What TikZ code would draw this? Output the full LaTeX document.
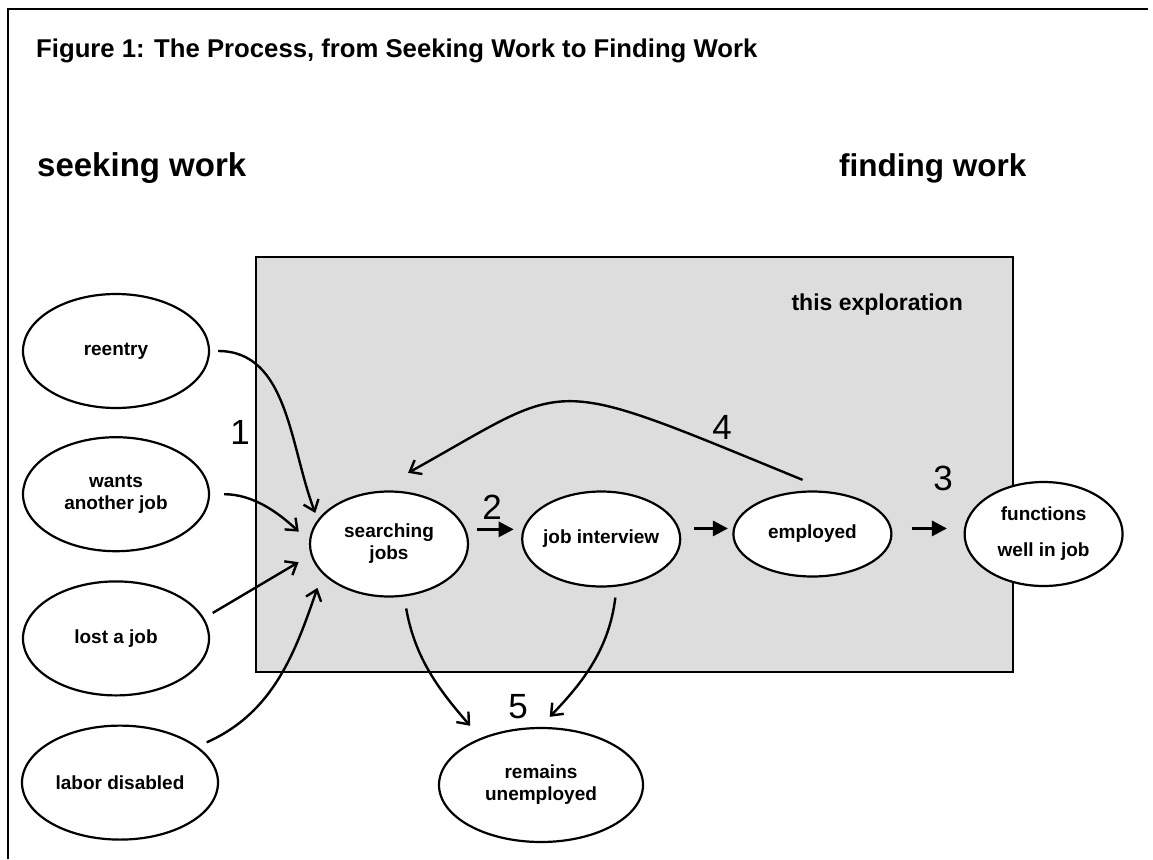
\documentclass[tikz,border=0pt]{standalone}
\usepackage{fontspec}
\setmainfont{Liberation Sans}
\usetikzlibrary{positioning,arrows.meta,shapes}
\definecolor{boxgray}{HTML}{DDDDDD}
\tikzstyle{ellbox}=[ellipse, draw, line width=2.2pt, fill=white, inner sep=0pt, align=center, minimum width=158pt, font=\bfseries\fontsize{19}{22}\selectfont]
\tikzstyle{sidebox}=[ellbox, minimum width=186pt, minimum height=114pt]
\tikzstyle{headtxt}=[inner sep=0pt, anchor=base west, font=\bfseries\fontsize{33}{38}\selectfont]
\tikzstyle{boxtxt}=[inner sep=0pt, font=\bfseries\fontsize{23}{28}\selectfont]
\tikzstyle{numlbl}=[inner sep=0pt, font=\fontsize{35}{40}\selectfont]
\tikzstyle{bendarr}=[-{Straight Barb[length=10pt,width=16pt]}, line width=2.4pt]
\tikzstyle{fatarr}=[-{Triangle[length=15pt,width=15pt]}, line width=3pt]

\begin{document}
\begin{tikzpicture}[x=1pt, y=-1pt]
    \useasboundingbox (0,0) rectangle (1153,859);
    \draw[line width=1.8pt] (8,859) -- (8,9) -- (1148,9);

    \node (title) [headtxt, font=\bfseries\fontsize{25.7}{30}\selectfont] at (36,57) {Figure 1: The Process, from Seeking Work to Finding Work};
    \node (seek) [headtxt] at (37,176) {seeking work};
    \node (find) [headtxt, font=\bfseries\fontsize{31.5}{36}\selectfont] at (839,176) {finding work};

% EXPLORATION
    \node (explore) [draw, fill=boxgray, line width=2pt, inner sep=0pt, minimum width=757pt, minimum height=415pt, anchor=north west] at (255,256) {};
    \node (explbl) [boxtxt, below left=38pt and 51pt of explore.north east] {this exploration};

% SEEKING
    \node (reentry) [sidebox] at (116,351) {reentry};
    \node (wants) [sidebox, below=27pt of reentry] {wants\\another job};
    \node (lost) [sidebox, below=28pt of wants] {lost a job};
    \node (labor) [sidebox, minimum width=196pt, below=28pt of lost, xshift=4pt] {labor disabled};
%%%% end SEEKING

    \node (searching) [ellbox, minimum height=105pt] at (389,544) {searching\\jobs};
    \node (jobint) [ellbox, minimum height=95pt, inner xsep=-8pt, right=52pt of searching, yshift=5pt] {job interview};
    \node (employed) [ellbox, minimum height=85pt, right=51pt of jobint, yshift=5pt] {employed};
    \node (functions) [ellbox, minimum height=104pt, right=71pt of employed, font=\bfseries\fontsize{19}{36}\selectfont] {functions\\well in job};
    \node (remains) [ellbox, minimum width=204pt, minimum height=114pt] at (541,785) {remains\\unemployed};

 %% NUMBERS ..
    \node (n1) [numlbl] at (240,432) {1};
    \node (n2) [numlbl] at (492,507) {2};
    \node (n3) [numlbl] at (943,478) {3};
    \node (n4) [numlbl] at (722,427) {4};
    \node (n5) [numlbl] at (518,707) {5};

%into searching
   \draw[bendarr, shorten <=8pt, shorten >=7pt] (reentry.east) to[out=0, in=111] (searching.161);
   \draw[bendarr, shorten <=14pt, shorten >=14pt] (wants.east) to[out=0, in=137] (searching.178);
   \draw[bendarr, shorten <=10pt, shorten >=14pt] (lost.13) -- (searching.188);
   \draw[bendarr, shorten <=10pt, shorten >=15pt] (labor.25) to[out=24, in=-109] (searching.204);

%main row
   \draw[fatarr, shorten <=8pt, shorten >=9pt] (searching.east |- jobint.173) -- (jobint.173);
   \draw[fatarr, shorten <=13pt, shorten >=5pt] (jobint.east |- employed.176) -- (employed.176);
   \draw[fatarr, shorten <=19pt, shorten >=17pt] (employed.east |- functions.176) -- (functions.176);

%back to searching
   \draw[bendarr, shorten <=31pt, shorten >=38pt] (employed.66) .. controls +(157.7:314pt) and +(29:229pt) .. (searching.105);

%unemployed
   \draw[bendarr, shorten <=12pt, shorten >=16pt] (searching.-74) to[out=-80, in=131] (remains.142);
   \draw[bendarr, shorten <=11pt, shorten >=14pt] (jobint.-72) to[out=-97, in=46] (remains.91);

\end{tikzpicture}
\end{document}
